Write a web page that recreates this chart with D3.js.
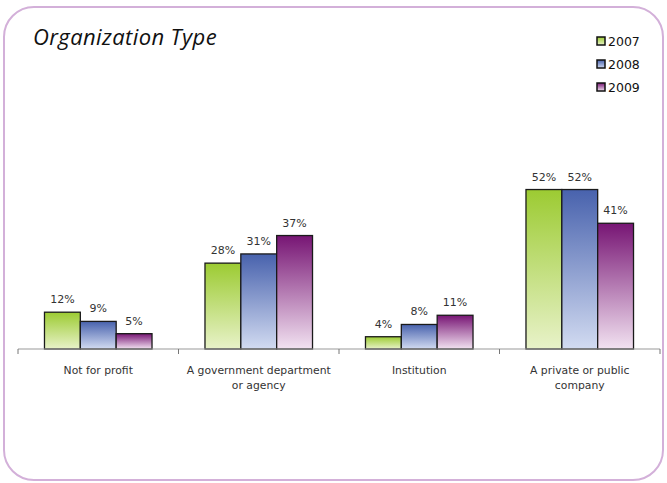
<!DOCTYPE html>
<html>
<head>
<meta charset="utf-8">
<script src="https://d3js.org/d3.v7.min.js"></script>
<style>
  body { margin: 0; background: #fff; }
  svg { display: block; font-family: "DejaVu Sans", sans-serif; }
</style>
</head>
<body>
<svg width="667" height="483"></svg>
<script>
var categories = [["Not for profit"], ["A government department", "or agency"], ["Institution"], ["A private or public", "company"]];
var years = ["2007", "2008", "2009"];
var values2007 = [12, 28, 4, 52];
var values2008 = [9, 31, 8, 52];
var values2009 = [5, 37, 11, 41];
var topColors = ["#9ccb32", "#4862ad", "#771574"];
var bottomColors = ["#e8f2c9", "#d2dbf1", "#f2e2f1"];

var series = [values2007, values2008, values2009];
var svg = d3.select("svg");

// rounded frame
svg.append("rect")
  .attr("x", 4).attr("y", 7)
  .attr("width", 659).attr("height", 473)
  .attr("rx", 30).attr("ry", 30)
  .attr("fill", "none")
  .attr("stroke", "#d3b0d9")
  .attr("stroke-width", 2);

// gradients
var defs = svg.append("defs");
years.forEach(function (y, i) {
  var g = defs.append("linearGradient")
    .attr("id", "grad" + i)
    .attr("x1", 0).attr("y1", 0).attr("x2", 0).attr("y2", 1);
  g.append("stop").attr("offset", "0%").attr("stop-color", topColors[i]);
  g.append("stop").attr("offset", "100%").attr("stop-color", bottomColors[i]);
});

var x0 = d3.scaleBand()
  .domain(d3.range(categories.length))
  .range([18, 660])
  .paddingInner(0.33)
  .paddingOuter(0.165);

var x1 = d3.scaleBand()
  .domain(years)
  .range([0, x0.bandwidth()]);

var y = d3.scaleLinear()
  .domain([0, 60])
  .range([349, 165]);

var groups = svg.selectAll(".group")
  .data(categories)
  .enter().append("g")
  .attr("class", "group")
  .attr("transform", function (d, i) { return "translate(" + x0(i) + ",0)"; });

groups.each(function (d, ci) {
  var g = d3.select(this);
  years.forEach(function (yr, si) {
    var v = series[si][ci];
    g.append("rect")
      .attr("x", x1(yr))
      .attr("y", y(v))
      .attr("width", x1.bandwidth())
      .attr("height", y(0) - y(v))
      .attr("fill", "url(#grad" + si + ")")
      .attr("stroke", "#1a1a1a")
      .attr("stroke-width", 1.3);
    g.append("text")
      .attr("x", x1(yr) + x1.bandwidth() / 2)
      .attr("y", y(v) - 9)
      .attr("text-anchor", "middle")
      .attr("font-size", "11px")
      .attr("fill", "#333")
      .text(v + "%");
  });
});

// axis line and ticks at category boundaries
var bounds = d3.range(categories.length + 1).map(function (i) {
  return 18 + i * (642 / categories.length);
});
svg.append("line")
  .attr("x1", 18).attr("x2", 660)
  .attr("y1", y(0)).attr("y2", y(0))
  .attr("stroke", "#999").attr("stroke-width", 1.2);
svg.selectAll(".tick")
  .data(bounds)
  .enter().append("line")
  .attr("x1", function (d) { return d; })
  .attr("x2", function (d) { return d; })
  .attr("y1", y(0)).attr("y2", y(0) + 5)
  .attr("stroke", "#777");

// category labels
categories.forEach(function (lines, i) {
  var cx = x0(i) + x0.bandwidth() / 2;
  var t = svg.append("text")
    .attr("x", cx)
    .attr("y", 374)
    .attr("text-anchor", "middle")
    .attr("font-size", "10.8px")
    .attr("fill", "#333");
  lines.forEach(function (l, k) {
    t.append("tspan").attr("x", cx).attr("dy", k === 0 ? 0 : 15).text(l);
  });
});

// title
svg.append("text")
  .attr("x", 33).attr("y", 45)
  .attr("font-family", "'Open Sans', sans-serif")
  .attr("font-size", "22px")
  .attr("letter-spacing", "0.4px")
  .attr("font-style", "italic")
  .attr("fill", "#111")
  .text("Organization Type");

// legend
var legend = svg.selectAll(".legend")
  .data(years)
  .enter().append("g")
  .attr("class", "legend")
  .attr("transform", function (d, i) { return "translate(597," + (37 + i * 23) + ")"; });
legend.append("rect")
  .attr("width", 8).attr("height", 8)
  .attr("fill", function (d, i) { return "url(#grad" + i + ")"; })
  .attr("stroke", "#111").attr("stroke-width", 1.5);
legend.append("text")
  .attr("x", 11).attr("y", 9)
  .attr("font-size", "12.5px")
  .attr("fill", "#111")
  .text(function (d) { return d; });
</script>
</body>
</html>
